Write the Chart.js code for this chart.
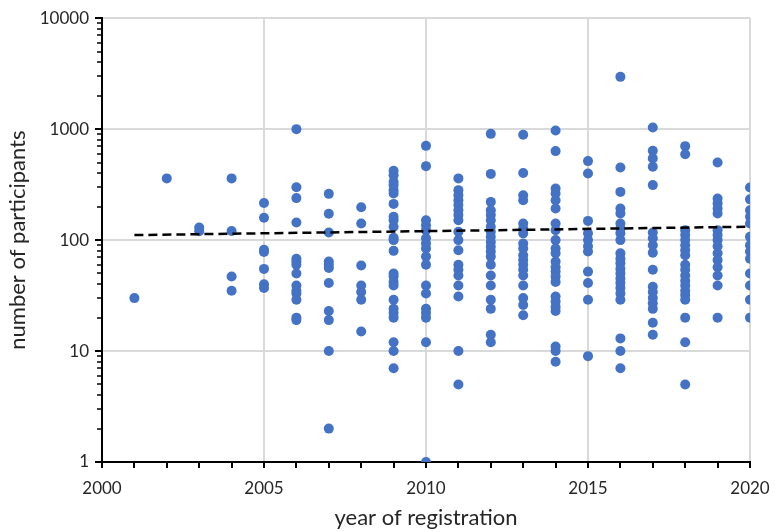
<!DOCTYPE html>
<html>
<head>
<meta charset="utf-8">
<script src="https://cdn.jsdelivr.net/npm/chart.js@4/dist/chart.umd.min.js"></script>
<style>
html,body{margin:0;padding:0;background:#fff;}
#wrap{width:775px;height:532px;position:relative;}
</style>
</head>
<body>
<div id="wrap"><canvas id="c" width="775" height="532"></canvas></div>
<script>
// Number of participants per registration year
const n2001 = [30];
const n2002 = [360];
const n2003 = [130, 120];
const n2004 = [360, 121, 47, 35];
const n2005 = [216, 159, 82, 78, 55, 40, 37];
const n2006 = [1000, 300, 239, 144, 68, 64, 60, 50, 39, 35, 33, 29, 20, 19];
const n2007 = [261, 173, 117, 64, 60, 56, 41, 23, 19, 10, 2];
const n2008 = [198, 141, 59, 39, 34, 29, 15];
const n2009 = [421, 385, 335, 313, 282, 263, 212, 162, 151, 132, 105, 100, 80, 50, 47, 42, 39, 29, 24, 22, 20, 12, 10, 7];
const n2010 = [707, 464, 151, 136, 123, 104, 93, 84, 71, 60, 39, 33, 24, 22, 20, 12, 1];
const n2011 = [360, 282, 254, 229, 207, 186, 168, 151, 119, 100, 81, 60, 54, 48, 39, 31, 10, 5];
const n2012 = [907, 395, 221, 186, 168, 151, 132, 119, 107, 96, 87, 79, 71, 60, 48, 39, 29, 24, 14, 12];
const n2013 = [889, 402, 254, 229, 141, 127, 115, 93, 84, 73, 66, 60, 54, 48, 39, 30, 26, 21];
const n2014 = [973, 634, 292, 263, 229, 193, 141, 123, 100, 84, 76, 64, 57, 52, 47, 42, 31, 28, 25, 23, 11, 10, 8];
const n2015 = [515, 398, 149, 115, 100, 88, 79, 52, 41, 29, 9];
const n2016 = [2960, 452, 272, 193, 174, 141, 127, 115, 100, 76, 68, 62, 55, 50, 45, 41, 37, 33, 29, 13, 10, 7];
const n2017 = [1036, 638, 545, 458, 313, 117, 104, 90, 77, 54, 38, 34, 30, 27, 24, 18, 14];
const n2018 = [703, 595, 123, 111, 100, 90, 81, 73, 60, 54, 48, 43, 39, 35, 32, 29, 20, 12, 5];
const n2019 = [500, 237, 214, 193, 174, 123, 111, 100, 88, 76, 66, 57, 48, 39, 20];
const n2020 = [298, 233, 186, 162, 141, 107, 90, 79, 68, 50, 39, 29, 20];

const years = [2001,2002,2003,2004,2005,2006,2007,2008,2009,2010,2011,2012,2013,2014,2015,2016,2017,2018,2019,2020];
const perYear = [n2001,n2002,n2003,n2004,n2005,n2006,n2007,n2008,n2009,n2010,n2011,n2012,n2013,n2014,n2015,n2016,n2017,n2018,n2019,n2020];

// Exponential trend line end points
const trendYears = [2001, 2020];
const trendValues = [111, 132];

const xTickLabels = [2000, 2005, 2010, 2015, 2020];
const yTickLabels = [1, 10, 100, 1000, 10000];
const yMinorSteps = [1, 2, 3, 4, 5, 6, 7, 8, 9];

const points = [];
years.forEach((yr, i) => perYear[i].forEach(v => points.push({x: yr, y: v})));
const trend = trendYears.map((yr, i) => ({x: yr, y: trendValues[i]}));

// 1..9 × each decade, plus the top decade
const yTickValues = [];
yTickLabels.slice(0, -1).forEach(d => yMinorSteps.forEach(k => yTickValues.push(k * d)));
yTickValues.push(yTickLabels[yTickLabels.length - 1]);

const FONT = "Lato, 'Open Sans', sans-serif";
const TXT = '#262626';
const GRID = '#d9d9d9';

function isDecade(v){ const l = Math.log10(v); return Math.abs(l - Math.round(l)) < 1e-9; }

// Draws the outward tick marks on both axes from the scales' own tick lists
const tickMarks = {
  id: 'tickMarks',
  afterDraw(chart) {
    const ctx = chart.ctx;
    const xs = chart.scales.x, ys = chart.scales.y;
    ctx.save();
    ctx.strokeStyle = '#000';
    ctx.lineCap = 'butt';
    ctx.lineWidth = 2;
    xs.ticks.forEach(t => {
      const px = Math.round(xs.getPixelForValue(t.value));
      ctx.beginPath();
      ctx.moveTo(px, ys.bottom);
      ctx.lineTo(px, ys.bottom + 6);
      ctx.stroke();
    });
    ys.ticks.forEach(t => {
      const major = isDecade(t.value);
      const py = Math.round(ys.getPixelForValue(t.value));
      ctx.lineWidth = major ? 2 : 1.5;
      ctx.beginPath();
      ctx.moveTo(xs.left, py);
      ctx.lineTo(xs.left - (major ? 7 : 5), py);
      ctx.stroke();
    });
    ctx.restore();
  }
};

new Chart(document.getElementById('c'), {
  type: 'scatter',
  data: {
    datasets: [
      {
        data: points,
        backgroundColor: '#4472C4',
        borderColor: '#4472C4',
        pointRadius: 5,
        pointHoverRadius: 5,
        borderWidth: 0,
        order: 2
      },
      {
        type: 'line',
        data: trend,
        borderColor: '#000',
        borderWidth: 2.5,
        borderDash: [9, 5],
        pointRadius: 0,
        fill: false,
        order: 1
      }
    ]
  },
  plugins: [tickMarks],
  options: {
    responsive: false,
    animation: false,
    layout: {padding: {top: 8, right: 25, left: 0, bottom: 0}},
    plugins: {legend: {display: false}, tooltip: {enabled: false}},
    scales: {
      x: {
        type: 'linear',
        min: 2000, max: 2020,
        afterFit: s => { s.height = 70; s.paddingRight = 0; s.paddingLeft = 0; },
        border: {color: '#000', width: 2},
        grid: {
          color: ctx => (ctx.tick && ctx.tick.value % 5 === 0 && ctx.tick.value !== 2000) ? GRID : 'rgba(0,0,0,0)',
          lineWidth: 2,
          drawTicks: true,
          tickColor: 'rgba(0,0,0,0)',
          tickLength: 5
        },
        ticks: {
          stepSize: 1,
          autoSkip: false,
          maxRotation: 0,
          padding: 11,
          color: TXT,
          font: {family: FONT, size: 17},
          callback: v => xTickLabels.includes(v) ? String(v) : ''
        },
        title: {display: true, text: 'year of registration', color: TXT, font: {family: FONT, size: 22}, padding: {top: 0, bottom: 1}}
      },
      y: {
        type: 'logarithmic',
        min: 1, max: 10000,
        afterBuildTicks: s => { s.ticks = yTickValues.map(v => ({value: v})); },
        afterFit: s => { s.width = 102; },
        border: {color: '#000', width: 2},
        grid: {
          color: ctx => (ctx.tick && isDecade(ctx.tick.value) && ctx.tick.value !== 1) ? GRID : 'rgba(0,0,0,0)',
          lineWidth: 2,
          drawTicks: true,
          tickColor: 'rgba(0,0,0,0)',
          tickLength: 5
        },
        ticks: {
          autoSkip: false,
          padding: 8,
          color: TXT,
          font: {family: FONT, size: 17},
          callback: v => yTickLabels.includes(v) ? String(v) : ''
        },
        title: {display: true, text: 'number of participants', color: TXT, font: {family: FONT, size: 22}, padding: {top: 5, bottom: 0}}
      }
    }
  }
});
</script>
</body>
</html>
